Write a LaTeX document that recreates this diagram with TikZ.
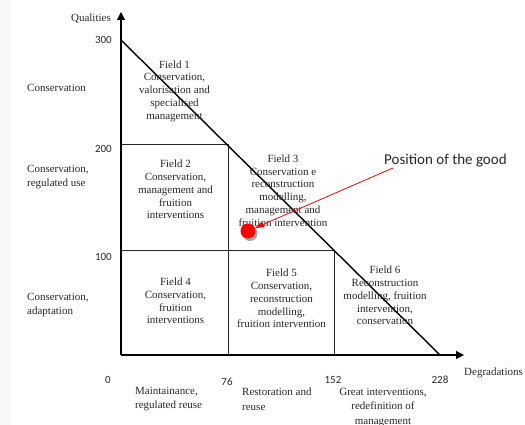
\documentclass[tikz,border=0pt]{standalone}
\usepackage{fontspec}
\setmainfont{Liberation Serif}
\newfontfamily\calfont{Carlito}
\usetikzlibrary{arrows.meta}
\begin{document}
\begin{tikzpicture}[x=1pt,y=-1pt,
  field/.style={align=center, font=\fontsize{11}{12.8}\selectfont, inner sep=0pt, text=black!85},
  side/.style={align=left, font=\fontsize{11}{14}\selectfont, inner sep=0pt, anchor=west, text=black!85},
  bottom/.style={align=left, font=\fontsize{11}{14.5}\selectfont, inner sep=0pt, anchor=west, text=black!85},
  tick/.style={font=\calfont\fontsize{11}{13}\selectfont, inner sep=0pt, text=black!85},
  axis/.style={line width=1.1pt, -{Triangle[length=8pt,width=8pt]}},
  gridline/.style={line width=0.9pt, draw=black!85},
  diag/.style={line width=1.4pt},
]
\useasboundingbox (0,0) rectangle (525,425);
\fill[black!3] (0,0) rectangle (10,425);

% key points of the chart
\coordinate (O) at (121,355);
\coordinate (Ytop) at (121,12);
\coordinate (Xend) at (464,355);
\coordinate (Q300) at (121,40);
\coordinate (D228) at (440,355);
\coordinate (Q200) at (121,144);
\coordinate (B1) at (228,144);
\coordinate (Q100) at (121,250);
\coordinate (B2) at (334,250);
\coordinate (X76) at (228,355);
\coordinate (X152) at (334,355);

% field boundaries
\draw[gridline] (Q200) -- (B1) -- (X76);
\draw[gridline] (Q100) -- (B2) -- (X152);
\draw[diag] (Q300) -- (D228);

% axes
\draw[axis] (O) -- (Ytop);
\draw[axis] (O) -- (Xend);
\node[side, anchor=east] (qual) at (111,19) {Qualities};
\node[side] (degr) at (464,373) {Degradations};

% tick values
\node[tick, anchor=east] (t300) at (112,40) {300};
\node[tick, anchor=east] (t200) at (112,149) {200};
\node[tick, anchor=east] (t100) at (112,257) {100};
\node[tick] (t0) at (108,380) {0};
\node[tick] (t76) at (227,382) {76};
\node[tick] (t152) at (333,380) {152};
\node[tick] (t228) at (440,380) {228};

% quality classes
\node[side] (c1) at (27,88) {Conservation};
\node[side] (c2) at (27,177) {Conservation,\\regulated use};
\node[side] (c3) at (27,305) {Conservation,\\adaptation};

% degradation classes
\node[bottom] (d1) at (135,399) {Maintainance,\\regulated reuse};
\node[bottom] (d2) at (242,399) {Restoration and\\reuse};
\node[bottom, align=center, anchor=center] (d3) at (383,407.5) {Great interventions,\\redefinition of\\management};

% fields
\node[field] (f1) at (174.5,91) {Field 1\\Conservation,\\valorisation and\\specialised\\management};
\node[field] (f2) at (175.5,189.5) {Field 2\\Conservation,\\management and\\fruition\\interventions};
\node[field] (f3) at (283,190.5) {Field 3\\Conservation e\\reconstruction\\modelling,\\management and\\fruition intervention};
\node[field] (f4) at (175.5,301) {Field 4\\Conservation,\\fruition\\interventions};
\node[field] (f5) at (281.5,298.5) {Field 5\\Conservation,\\reconstruction\\modelling,\\fruition intervention};
\node[field] (f6) at (385,295.5) {Field 6\\Reconstruction\\modelling, fruition\\intervention,\\conservation};

% position of the good
\fill[black!35] (250,233.5) circle (7.5);
\node[circle, fill=red, minimum size=15pt, inner sep=0pt] (good) at (248,231) {};
\node[font=\calfont\fontsize{15}{18}\selectfont, anchor=west, inner sep=0pt, text=black!85] (pos) at (384,161) {Position of the good};
\coordinate (ptr) at (393,168);
\draw[red, line width=0.8pt, -{Triangle[length=9pt,width=6pt]}] (ptr) -- (good);
\end{tikzpicture}
\end{document}
